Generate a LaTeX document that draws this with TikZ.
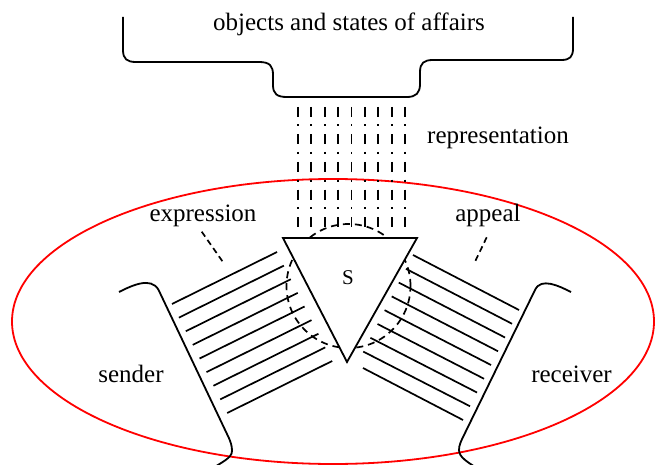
\documentclass[tikz,border=0pt]{standalone}
\usepackage{fontspec}
\setmainfont{Liberation Serif}
\begin{document}
\begin{tikzpicture}[x=1pt,y=-1pt,
  ink/.style={line width=1.8pt,black},
  vdash/.style={line width=1.8pt,black,dash pattern=on 10pt off 7.5pt on 2pt off 8pt},
  circdash/.style={line width=1.7pt,black,dash pattern=on 7pt off 5pt},
  pointer/.style={line width=1.7pt,black,dash pattern=on 6pt off 4pt},
  lbl/.style={anchor=base,inner sep=0pt,font=\fontsize{25}{30}\selectfont},
  hatch/.style={line width=1.7pt,black}]
\useasboundingbox (0,0) rectangle (655,465);
% red ellipse
\coordinate (fieldc) at (333,321.5);
\draw[red,line width=1.8pt] (fieldc) ellipse [x radius=321pt, y radius=142.5pt];
% top bracket
\draw[ink] (123,17) -- (123,50) .. controls (123,59) and (127,62) .. (136,62)
  -- (259,62) .. controls (270,62) and (273,66) .. (273,75)
  -- (273,85) .. controls (273,94) and (277,97) .. (287,97)
  -- (407,97) .. controls (416,97) and (420,93) .. (420,84)
  -- (420,72) .. controls (420,63) and (424,60) .. (433,60)
  -- (561,60) .. controls (570,60) and (573,57) .. (573,48) -- (573,17);
\node[lbl] (objects) at (349,30.5) {objects and states of affairs};
% representation lines
\foreach \i in {0,...,8}
  \draw[vdash] ({298+13.375*\i},107) -- ({298+13.375*\i},228);
\node[lbl] (representation) at (498,144) {representation};
% dashed circle
\draw[circdash] (348.5,286) circle [radius=62pt];
% expression hatching
\foreach \i in {0,...,8}
  \draw[hatch] ({172+6.9*\i},{304+13.625*\i}) -- ++(105,-52);
% appeal hatching
\foreach \i in {0,...,7}
  \draw[hatch] ({413-7.1*\i},{255+13.8*\i}) -- ({519-7*\i},{310+13.75*\i});
\draw[hatch] (363,368) -- (463,420);
% triangle S
\draw[ink,fill=white,line join=miter] (283,238) -- (417,238) -- (347,362) -- cycle;
\node[anchor=base,inner sep=0pt,font=\fontsize{21}{24}\selectfont] (S) at (348,284) {S};
% sender
\draw[ink] (119,292) .. controls (131,286) and (151,276) .. (158.6,290)
  -- (227,434) .. controls (231,442) and (232,446) .. (232,451)
  .. controls (232,458) and (222,462) .. (210,470);
% receiver
\draw[ink] (571,292) .. controls (559,286) and (541,277) .. (535,290)
  -- (465,433) .. controls (461,441) and (459,445) .. (459,450)
  .. controls (459,457) and (467,462) .. (480,470);
% labels
\node[lbl] (expression) at (203,221.5) {expression};
\node[lbl] (appeal) at (488,221.5) {appeal};
\node[lbl] (sender) at (131,382) {sender};
\node[lbl] (receiver) at (571.5,382.5) {receiver};
% pointers
\coordinate (ex1) at (201.7,231.7);
\coordinate (ex2) at (222.7,261.7);
\coordinate (ap1) at (486.7,237.3);
\coordinate (ap2) at (475,261.7);
\draw[pointer] (ex1) -- (ex2);
\draw[pointer] (ap1) -- (ap2);
\end{tikzpicture}
\end{document}
